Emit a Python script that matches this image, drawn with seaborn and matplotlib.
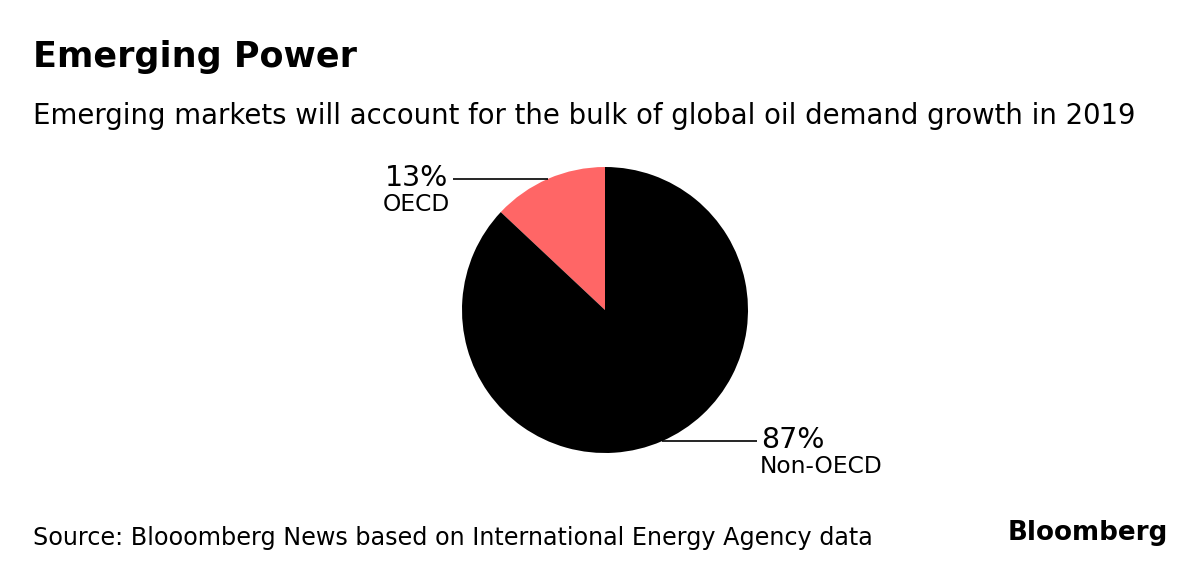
import numpy as np
import matplotlib
matplotlib.use("Agg")
import matplotlib.pyplot as plt
import seaborn as sns

# Data
categories = ["OECD", "Non-OECD"]
shares = [13, 87]
colors = ["#ff6666", "#000000"]

title = "Emerging Power"
subtitle = "Emerging markets will account for the bulk of global oil demand growth in 2019"
source = "Source: Blooomberg News based on International Energy Agency data"

sns.set_theme(style="white")
plt.rcParams["font.family"] = ["DejaVu Sans"]
plt.rcParams["text.color"] = "black"

W, H = 1200, 566
fig = plt.figure(figsize=(W / 100, H / 100), dpi=100)
fig.patch.set_facecolor("white")

cx, cy, r = 605, 310, 143
ax = fig.add_axes([(cx - r * 1.3) / W, (H - cy - r * 1.3) / H, 2.6 * r / W, 2.6 * r / H])
wedges, _ = ax.pie(shares, colors=colors, startangle=90, counterclock=True,
                   radius=1.0, wedgeprops=dict(linewidth=0))
ax.set_xlim(-1.3, 1.3)
ax.set_ylim(-1.3, 1.3)
ax.set_aspect("equal")
ax.axis("off")

# Leader lines + labels
for w, cat, val in zip(wedges, categories, shares):
    mid = np.deg2rad((w.theta1 + w.theta2) / 2)
    x0, y0 = np.cos(mid), np.sin(mid)
    side = np.sign(x0)
    x1 = side * 1.065
    ax.plot([x0, x1], [y0, y0], color="black", lw=1.2, solid_capstyle="butt", clip_on=False)
    ha = "left" if side > 0 else "right"
    tx = x1 + side * 0.03
    ax.text(tx, y0 - 0.05, f"{val}%", ha=ha, va="baseline", fontsize=20.5,
            color="black", clip_on=False)
    ax.text(tx - side * 0.01, y0 - 0.225, cat, ha=ha, va="baseline", fontsize=16.8,
            color="black", clip_on=False)

fig.text(33 / W, 1 - 67 / H, title, fontsize=25.2, fontweight="bold", ha="left", va="baseline",
         color="black")
fig.text(33 / W, 1 - 124 / H, subtitle, fontsize=19.85, ha="left", va="baseline", color="black")
fig.text(33 / W, 1 - 545 / H, source, fontsize=17.2, ha="left", va="baseline", color="black")
fig.text(1168 / W, 1 - 540 / H, "Bloomberg", fontsize=18.8, fontweight="bold",
         ha="right", va="baseline", color="black")

fig.savefig("out.png", dpi=100, facecolor="white")
